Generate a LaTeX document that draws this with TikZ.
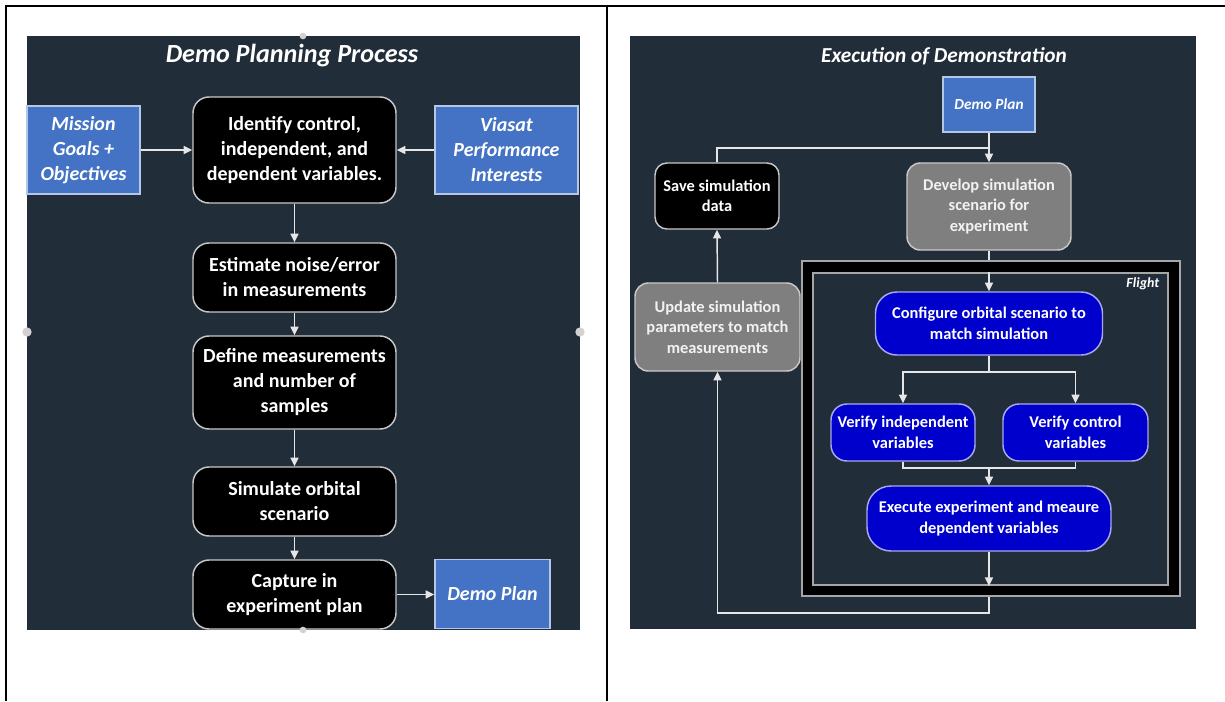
\documentclass[tikz,border=0pt]{standalone}
\usepackage{fontspec}
\setmainfont{Carlito}
\usetikzlibrary{arrows.meta}

\definecolor{panel}{HTML}{222D3A}
\definecolor{accent}{HTML}{4472C4}
\definecolor{accentrim}{HTML}{B4C7E7}
\definecolor{deepblue}{HTML}{0000CC}
\definecolor{deeprim}{HTML}{A8A8F0}
\definecolor{stone}{HTML}{7F7F7F}
\definecolor{rim}{HTML}{C8C8C8}
\definecolor{wire}{HTML}{E6E6E6}
\definecolor{framegray}{HTML}{A6A6A6}

\tikzset{
  bigtext/.style={font=\fontsize{15}{18.75}\selectfont\bfseries},
  smalltext/.style={font=\fontsize{12.3}{15.4}\selectfont\bfseries},
  basebox/.style={inner sep=0pt, align=center, text=white},
  darkstep/.style={basebox, fill=black, draw=rim, line width=1.1pt, rounded corners=12pt},
  greystep/.style={basebox, fill=stone, draw=rim, line width=1.1pt, rounded corners=10pt, text=white!95!black},
  bluestep/.style={basebox, fill=deepblue, draw=deeprim, line width=1.1pt, rounded corners=16pt},
  inputbox/.style={basebox, fill=accent, draw=accentrim, line width=1.1pt},
  arr/.style={draw=wire, line width=1.1pt, -{Triangle[length=6.5pt,width=6pt]}},
  wireline/.style={draw=wire, line width=1.1pt},
  handle/.style={circle, fill=gray!35, draw=none, minimum size=7pt, inner sep=0pt}
}

\begin{document}
\begin{tikzpicture}[x=0.75pt,y=-0.75pt]
\useasboundingbox (0,0) rectangle (1225,701);
\fill[white] (0,0) rectangle (1225,701);

% table rules
\draw[line width=1.6pt] (6,701) -- (6,6) -- (1225,6);
\draw[line width=1.6pt] (607,6) -- (607,701);

% ---------- planning panel ----------
\fill[panel] (27,36) rectangle (580,630);
\node[text=white, font=\fontsize{19.6}{22}\selectfont\bfseries\itshape] (ltitle) at (292,56) {Demo Planning Process};

\node[darkstep, bigtext, minimum width=152.25pt, minimum height=79.5pt] (ident) at (294.5,150)
  {Identify control,\\independent, and\\dependent variables.};
\node[inputbox, font=\fontsize{15}{18.75}\selectfont\bfseries\itshape, minimum width=84.75pt, minimum height=66pt] (mission) at (83.5,150)
  {Mission\\Goals +\\Objectives};
\node[inputbox, font=\fontsize{15}{18.75}\selectfont\bfseries\itshape, minimum width=107.25pt, minimum height=66pt] (viasat) at (506.5,150)
  {Viasat\\Performance\\Interests};
\node[darkstep, bigtext, minimum width=152.25pt, minimum height=51.75pt] (est) at (294.5,277.5)
  {Estimate noise/error\\in measurements};
\node[darkstep, bigtext, minimum width=152.25pt, minimum height=69.75pt] (define) at (294.5,382.5)
  {Define measurements\\and number of\\samples};
\node[darkstep, bigtext, minimum width=152.25pt, minimum height=51.75pt] (simulate) at (294.5,501.5)
  {Simulate orbital\\scenario};
\node[darkstep, bigtext, minimum width=152.25pt, minimum height=51.75pt] (capture) at (294.5,594.5)
  {Capture in\\experiment plan};
\node[inputbox, font=\fontsize{15}{18.75}\selectfont\bfseries\itshape, minimum width=86.25pt, minimum height=51.75pt] (lplan) at (492.5,594)
  {Demo Plan};

\draw[arr] (mission.east) -- (ident.west);
\draw[arr] (viasat.west) -- (ident.east);
\draw[arr] (ident.south) -- (est.north);
\draw[arr] (est.south) -- (define.north);
\draw[arr] (define.south) -- (simulate.north);
\draw[arr] (simulate.south) -- (capture.north);
\draw[arr] (capture.east) -- (capture.east -| lplan.west);

% resize handles on the panel edges
\node[handle] (h1) at (27,332) {};
\node[handle] (h2) at (580,332) {};
\node[handle, minimum size=5pt] (h3) at (303,36) {};
\node[handle, minimum size=5pt] (h4) at (303,630) {};

% ---------- execution panel ----------
\fill[panel] (630,36) rectangle (1196,629);
\node[text=white, font=\fontsize{16}{19}\selectfont\bfseries\itshape] (rtitle) at (944,56) {Execution of Demonstration};

% flight frame
\node[fill=black, draw=framegray, line width=1.5pt, minimum width=283.5pt, minimum height=251.25pt, inner sep=0pt] (outer) at (991,428.5) {};
\node[fill=panel, draw=framegray, line width=1.5pt, minimum width=266.25pt, minimum height=234pt, inner sep=0pt] (inner) at (990.5,429) {};
\node[anchor=east, text=white, font=\fontsize{10.5}{12}\selectfont\bfseries\itshape] (flight) at (1164,284) {Flight};

\node[inputbox, font=\fontsize{11.5}{13}\selectfont\bfseries\itshape, minimum width=69pt, minimum height=41.25pt] (rplan) at (989,104.5)
  {Demo Plan};
\node[darkstep, smalltext, rounded corners=9pt, minimum width=93pt, minimum height=49.5pt] (save) at (717,196)
  {Save simulation\\data};
\node[greystep, smalltext, minimum width=123pt, minimum height=65.25pt] (develop) at (989,206.5)
  {Develop simulation\\scenario for\\experiment};
\node[greystep, smalltext, minimum width=123.75pt, minimum height=66pt] (update) at (717.5,327)
  {Update simulation\\parameters to match\\measurements};
\node[bluestep, smalltext, minimum width=170.25pt, minimum height=47.25pt] (config) at (989,323.5)
  {Configure orbital scenario to\\match simulation};
\node[bluestep, smalltext, rounded corners=12pt, minimum width=108pt, minimum height=42.75pt] (vind) at (903,432.5)
  {Verify independent\\variables};
\node[bluestep, smalltext, rounded corners=12pt, minimum width=108.75pt, minimum height=42.75pt] (vctl) at (1075.5,432.5)
  {Verify control\\variables};
\node[bluestep, smalltext, rounded corners=18pt, minimum width=183pt, minimum height=48.75pt] (exec) at (989,518.5)
  {Execute experiment and meaure\\dependent variables};

\coordinate (join) at (989,148);
\coordinate (split) at (989,372);
\coordinate (merge) at (989,468);
\coordinate (loop) at (989,613);

\draw[arr] (rplan.south) -- (develop.north);
\draw[wireline] (save.north) |- (join);
\draw[wireline] (develop.south) -- (develop.south |- outer.north);
\draw[arr] (config.north |- inner.north) -- (config.north);
\draw[arr] (config.south) -- (split) -| (vind.north);
\draw[arr] (split) -| (vctl.north);
\draw[wireline] (vind.south) |- (merge) -| (vctl.south);
\draw[arr] (merge) -- (exec.north);
\draw[arr] (exec.south) -- (exec.south |- inner.south);
\draw[arr] (loop |- outer.south) -- (loop) -| (update.south);
\draw[arr] (update.north) -- (save.south);
\end{tikzpicture}
\end{document}
